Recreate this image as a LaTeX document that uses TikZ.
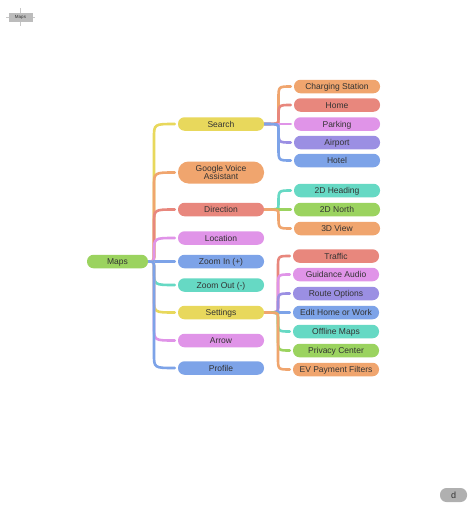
\documentclass[tikz,border=0pt]{standalone}
\usepackage{fontspec}
\setmainfont{Liberation Sans}
\usetikzlibrary{backgrounds,calc}
\definecolor{cgrn}{RGB}{155,211,95}
\definecolor{cyel}{RGB}{232,216,92}
\definecolor{cora}{RGB}{240,165,110}
\definecolor{cred}{RGB}{232,135,125}
\definecolor{cpnk}{RGB}{224,148,232}
\definecolor{cblu}{RGB}{125,163,232}
\definecolor{ctea}{RGB}{102,217,196}
\definecolor{cpur}{RGB}{155,143,227}
\definecolor{txt}{RGB}{51,51,51}
\definecolor{gry}{RGB}{176,176,176}
\tikzset{
  basebox/.style={rectangle, minimum width=86pt, inner sep=0pt,
    font=\fontsize{8.5}{9.5}\selectfont, text=txt, align=center},
  box/.style={basebox, rounded corners=6.5pt, minimum height=13.5pt, text height=6.8pt, text depth=0.8pt},
  tall/.style={basebox, rounded corners=10.5pt, minimum height=22pt},
  link/.style={line width=2.6pt, line cap=round},
}
% #1 parent, #2 child, #3 spine x (pt), #4 colour, #5 first radius, #6 second radius
\newcommand\brch[6]{%
  \draw[link,#4] let \p1=(#1.east), \p2=(#2.west), \n1={sign(\y2-\y1)} in
    (\p1) .. controls (#3pt,\y1) .. (#3pt,\y1+\n1*#5)
    -- (#3pt,\y2-\n1*#6) .. controls (#3pt,\y2) .. (\x2-3,\y2);
}
\begin{document}
\begin{tikzpicture}[x=1pt,y=-1pt]
\useasboundingbox (0,0) rectangle (474,514);
% top-left badge
\draw[gry!70, line width=0.6pt] (6,17) -- (35,17) (20.5,8) -- (20.5,26);
\node[rectangle, fill=gry!85, minimum width=24pt, minimum height=9pt, inner sep=0pt,
  font=\fontsize{4.5}{5}\selectfont, text=txt] (badge) at (20.5,17) {Maps};
% bottom-right
\node[rectangle, rounded corners=6.5pt, fill=gry, minimum width=27pt, minimum height=14pt, inner sep=0pt,
  font=\fontsize{9}{10}\selectfont, text=txt, text height=6.5pt, text depth=0pt] (dnode) at (453.5,495) {d};

% root
\node[box, fill=cgrn, minimum width=61pt] (maps) at (117.5,261.5) {Maps};
% level 1
\node[box, fill=cyel] (search) at (221,124) {Search};
\node[tall, fill=cora] (gva) at (221,172.5) {Google Voice\\[-1.5pt]Assistant};
\node[box, fill=cred] (dir) at (221,209.5) {Direction};
\node[box, fill=cpnk] (loc) at (221,238) {Location};
\node[box, fill=cblu] (zin) at (221,261.5) {Zoom In (+)};
\node[box, fill=ctea] (zout) at (221,285) {Zoom Out (-)};
\node[box, fill=cyel] (set) at (221,312.5) {Settings};
\node[box, fill=cpnk] (arrow) at (221,340.5) {Arrow};
\node[box, fill=cblu] (prof) at (221,368) {Profile};
% search children
\node[box, fill=cora] (chg) at (337,86.5) {Charging Station};
\node[box, fill=cred] (home) at (337,105) {Home};
\node[box, fill=cpnk] (park) at (337,124) {Parking};
\node[box, fill=cpur] (air) at (337,142.5) {Airport};
\node[box, fill=cblu] (hot) at (337,160.5) {Hotel};
% direction children
\node[box, fill=ctea] (h2d) at (337,190.5) {2D Heading};
\node[box, fill=cgrn] (n2d) at (337,209.5) {2D North};
\node[box, fill=cora] (v3d) at (337,228.5) {3D View};
% settings children
\node[box, fill=cred] (traf) at (336,256) {Traffic};
\node[box, fill=cpnk] (gaud) at (336,274.5) {Guidance Audio};
\node[box, fill=cpur] (ropt) at (336,293.5) {Route Options};
\node[box, fill=cblu] (ehw) at (336,312.5) {Edit Home or Work};
\node[box, fill=ctea] (offm) at (336,331.5) {Offline Maps};
\node[box, fill=cgrn] (priv) at (336,350.5) {Privacy Center};
\node[box, fill=cora] (evp) at (336,369.5) {EV Payment Filters};

\begin{pgfonlayer}{background}
\fill[white] (0,0) rectangle (474,514);
\foreach \c/\col in {search/cyel, gva/cora, dir/cred, loc/cpnk, zin/cblu, zout/ctea, set/cyel, arrow/cpnk, prof/cblu}{
  \brch{maps}{\c}{154}{\col}{7}{14}
}
\foreach \c/\col in {chg/cora, home/cred, park/cpnk, air/cpur, hot/cblu}{
  \brch{search}{\c}{278.5}{\col}{5}{12}
}
\foreach \c/\col in {h2d/ctea, n2d/cgrn, v3d/cora}{
  \brch{dir}{\c}{278.5}{\col}{5}{12}
}
\foreach \c/\col in {traf/cred, gaud/cpnk, ropt/cpur, ehw/cblu, offm/ctea, priv/cgrn, evp/cora}{
  \brch{set}{\c}{278}{\col}{5}{12}
}
\end{pgfonlayer}
\end{tikzpicture}
\end{document}
